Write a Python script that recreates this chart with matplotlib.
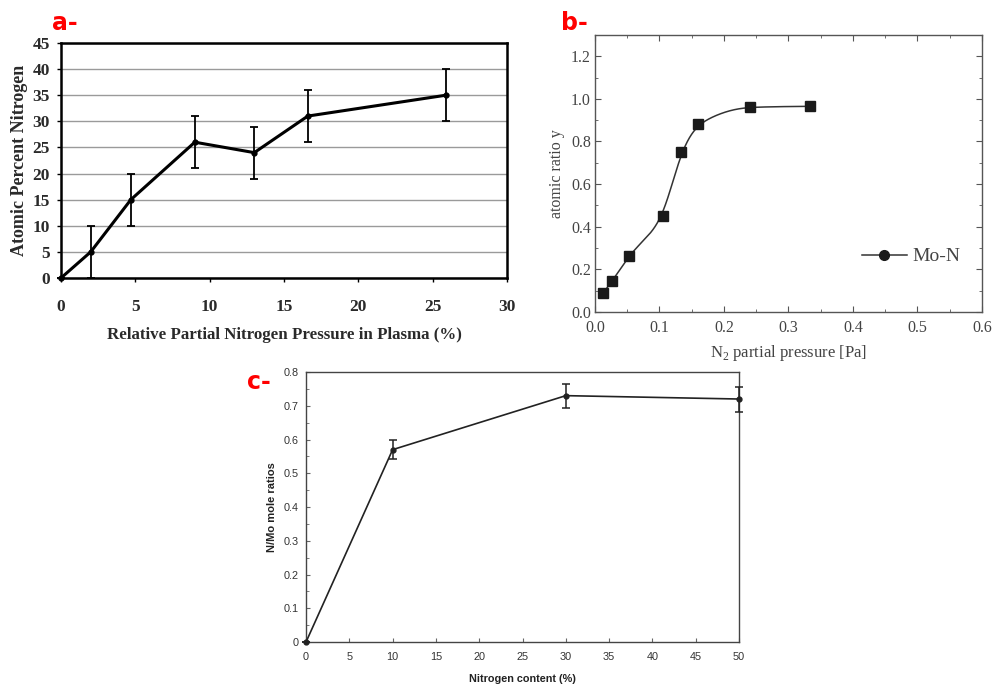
import numpy as np
import matplotlib
matplotlib.use("Agg")
import matplotlib.pyplot as plt
from matplotlib.lines import Line2D
from matplotlib.ticker import MultipleLocator, FormatStrFormatter, FuncFormatter

# Panel a: atomic percent nitrogen vs relative partial N2 pressure
a_x = [0, 2, 4.7, 9, 13, 16.6, 25.9]
a_y = [0, 5, 15, 26, 24, 31, 35]
a_err = [0, 5, 5, 5, 5, 5, 5]

# Panel b: atomic ratio y vs N2 partial pressure
b_x = [0.013, 0.027, 0.053, 0.106, 0.133, 0.160, 0.240, 0.333]
b_y = [0.09, 0.145, 0.265, 0.45, 0.752, 0.88, 0.96, 0.965]

# Panel c: N/Mo mole ratio vs nitrogen content
c_x = [0, 10, 30, 50]
c_y = [0, 0.57, 0.73, 0.72]
c_err = [0, 0.028, 0.036, 0.037]


def pchip(x, y, xs):
    """Monotone piecewise cubic Hermite interpolation."""
    x = np.asarray(x, float)
    y = np.asarray(y, float)
    h = np.diff(x)
    d = np.diff(y) / h
    m = np.zeros_like(y)
    for k in range(1, len(x) - 1):
        if d[k - 1] * d[k] > 0:
            w1 = 2 * h[k] + h[k - 1]
            w2 = h[k] + 2 * h[k - 1]
            m[k] = (w1 + w2) / (w1 / d[k - 1] + w2 / d[k])
    m[0] = d[0]
    m[-1] = d[-1] * 0.3
    idx = np.clip(np.searchsorted(x, xs) - 1, 0, len(x) - 2)
    t = (xs - x[idx]) / h[idx]
    h00 = 2 * t**3 - 3 * t**2 + 1
    h10 = t**3 - 2 * t**2 + t
    h01 = -2 * t**3 + 3 * t**2
    h11 = t**3 - t**2
    return (h00 * y[idx] + h10 * h[idx] * m[idx]
            + h01 * y[idx + 1] + h11 * h[idx] * m[idx + 1])


def smooth_curve(x, y, n=600, sigma=0.012):
    """Interpolate, then soften the joins with a Gaussian kernel."""
    xs = np.linspace(x[0], x[-1], n)
    ys = pchip(x, y, xs)
    dx = xs[1] - xs[0]
    half = int(4 * sigma / dx)
    k = np.exp(-0.5 * ((np.arange(-half, half + 1) * dx) / sigma) ** 2)
    k /= k.sum()
    # linear extrapolation at the ends keeps the end slopes intact
    left = ys[0] - (ys[1] - ys[0]) * np.arange(half, 0, -1)
    right = ys[-1] + (ys[-1] - ys[-2]) * np.arange(1, half + 1)
    padded = np.concatenate([left, ys, right])
    return xs, np.convolve(padded, k, mode="valid")


fig = plt.figure(figsize=(9.92, 6.84), dpi=100)

serif = "Liberation Serif"
sans = "Liberation Sans"

# ---------------- panel a ----------------
ax = fig.add_axes([0.0615, 0.5936, 0.4496, 0.3436])
ax.errorbar(a_x, a_y, yerr=a_err, color="black", lw=2.2, marker="o",
            ms=3.5, elinewidth=1.3, capsize=3, capthick=1.3, zorder=3,
            clip_on=False)
ax.set_xlim(0, 30)
ax.set_ylim(0, 45)
ax.set_xticks(np.arange(0, 31, 5))
ax.set_yticks(np.arange(0, 46, 5))
ax.yaxis.grid(True, color="#9a9a9a", lw=1.0)
ax.set_axisbelow(True)
for s in ax.spines.values():
    s.set_linewidth(1.8)
ax.tick_params(axis="x", direction="out", length=3, width=1, pad=12)
ax.tick_params(axis="y", direction="out", length=3, width=1, pad=5)
for lab in ax.get_xticklabels() + ax.get_yticklabels():
    lab.set_fontfamily(serif)
    lab.set_fontweight("bold")
    lab.set_fontsize(12.5)
    lab.set_color("#2a2a2a")
ax.set_xlabel("Relative Partial Nitrogen Pressure in Plasma (%)",
              fontfamily=serif, fontweight="bold", fontsize=12.2,
              color="#2a2a2a", labelpad=9)
ax.set_ylabel("Atomic Percent Nitrogen", fontfamily=serif,
              fontweight="bold", fontsize=13, color="#2a2a2a", labelpad=3)

# ---------------- panel b ----------------
bx = fig.add_axes([0.5998, 0.5439, 0.3901, 0.405])
cxs, cys = smooth_curve(b_x, b_y)
bx.plot(cxs, cys, color="#333333", lw=1.1, zorder=2)
bx.plot(b_x, b_y, ls="none", marker="s", ms=6.8, color="#1a1a1a", zorder=3)
bx.set_xlim(0, 0.6)
bx.set_ylim(0, 1.3)
bx.xaxis.set_major_locator(MultipleLocator(0.1))
bx.xaxis.set_minor_locator(MultipleLocator(0.05))
bx.yaxis.set_major_locator(MultipleLocator(0.2))
bx.yaxis.set_minor_locator(MultipleLocator(0.1))
bx.xaxis.set_major_formatter(FormatStrFormatter("%.1f"))
bx.yaxis.set_major_formatter(FormatStrFormatter("%.1f"))
for s in bx.spines.values():
    s.set_linewidth(1.0)
    s.set_color("#555555")
bx.tick_params(which="both", direction="in", top=True, right=True,
               color="#555555", labelsize=11.5, labelcolor="#444444")
bx.tick_params(axis="x", which="both", pad=6)
bx.tick_params(axis="y", which="both", pad=3)
bx.tick_params(which="major", length=4)
bx.tick_params(which="minor", length=2)
for lab in bx.get_xticklabels() + bx.get_yticklabels():
    lab.set_fontfamily(serif)
bx.set_xlabel(r"N$_\mathregular{2}$ partial pressure [Pa]", fontfamily=serif,
              fontsize=12, color="#444444", labelpad=5)
bx.set_ylabel("atomic ratio y", fontfamily=serif, fontsize=11.5,
              color="#444444", labelpad=4)
handle = Line2D([], [], color="#333333", lw=1.1, marker="o", ms=7,
                markerfacecolor="#1a1a1a", markeredgecolor="#1a1a1a")
bx.legend([handle], ["Mo-N"], loc="center left", bbox_to_anchor=(0.645, 0.2),
          frameon=False, handlelength=2.3, handletextpad=0.3,
          prop={"family": serif, "size": 14}, labelcolor="#444444")

# ---------------- panel c ----------------
cx = fig.add_axes([0.3085, 0.0614, 0.4365, 0.3947])
cx.errorbar(c_x, c_y, yerr=c_err, color="#222222", lw=1.2, marker="o",
            ms=3.5, elinewidth=1.1, capsize=3, capthick=1.1, zorder=3,
            clip_on=False)
cx.set_xlim(0, 50)
cx.set_ylim(0, 0.8)
cx.xaxis.set_major_locator(MultipleLocator(5))
cx.yaxis.set_major_locator(MultipleLocator(0.1))
cx.yaxis.set_minor_locator(MultipleLocator(0.05))
cx.yaxis.set_major_formatter(FuncFormatter(
    lambda v, p: "0" if abs(v) < 1e-9 else f"{v:.1f}"))
for s in cx.spines.values():
    s.set_linewidth(1.0)
    s.set_color("#444444")
cx.tick_params(which="both", direction="in", color="#666666",
               labelsize=7.8, labelcolor="#333333")
cx.tick_params(axis="x", which="both", pad=7)
cx.tick_params(axis="y", which="both", pad=5)
cx.tick_params(which="major", length=3)
cx.tick_params(which="minor", length=2)
for lab in cx.get_xticklabels() + cx.get_yticklabels():
    lab.set_fontfamily(sans)
cx.set_xlabel("Nitrogen content (%)", fontfamily=sans, fontweight="bold",
              fontsize=7.8, color="#222222", labelpad=9)
cx.set_ylabel("N/Mo mole ratios", fontfamily=sans, fontweight="bold",
              fontsize=8, color="#222222", labelpad=5)

# ---------------- panel letters ----------------
for x, y, t in [(0.052, 0.966, "a-"), (0.566, 0.966, "b-"),
                (0.249, 0.442, "c-")]:
    fig.text(x, y, t, color="#ff0000", fontsize=17, fontweight="bold",
             fontfamily="DejaVu Sans", ha="left", va="center")

fig.savefig("out.png", dpi=100)
